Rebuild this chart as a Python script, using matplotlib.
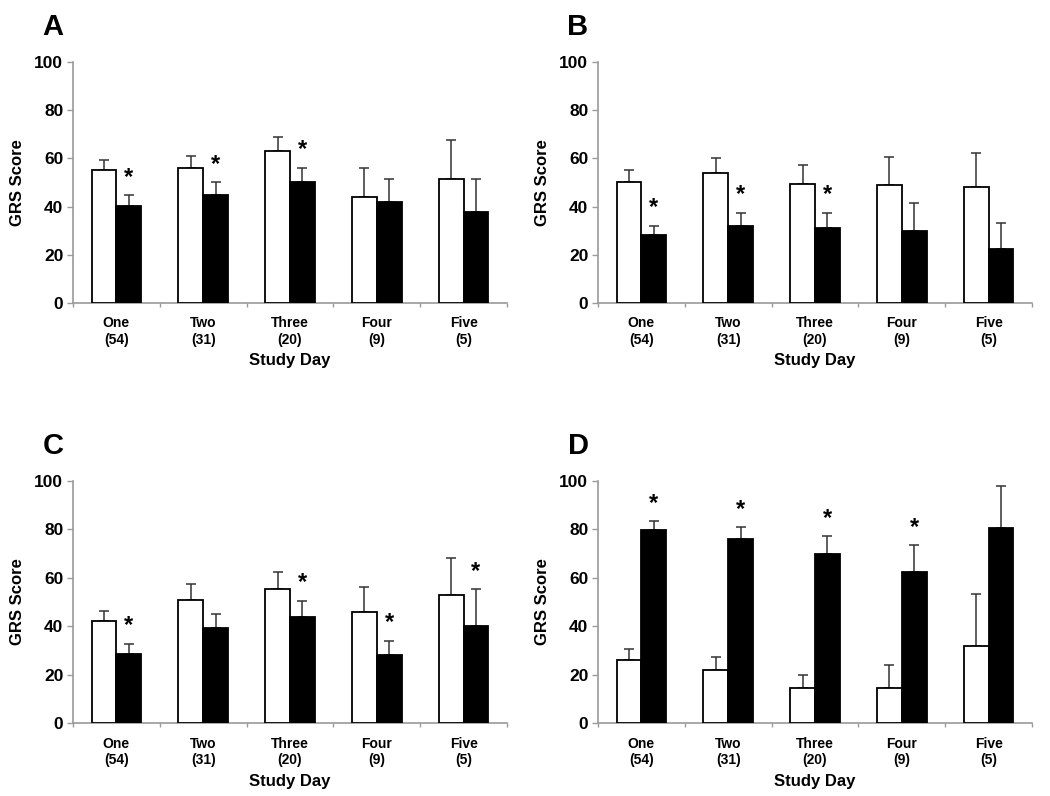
import matplotlib
matplotlib.use("Agg")
import matplotlib.pyplot as plt
import numpy as np

plt.rcParams['font.family'] = ['Liberation Sans', 'DejaVu Sans']
plt.rcParams['font.weight'] = 'bold'

days = ["One", "Two", "Three", "Four", "Five"]
ns = ["(54)", "(31)", "(20)", "(9)", "(5)"]
panels = ["A", "B", "C", "D"]

# white bars (group 1) means and upper error lengths
a_white = [55.2, 55.9, 63.0, 44.1, 51.3]
a_white_err = [4.0, 5.2, 5.8, 11.8, 16.3]
a_black = [40.3, 44.7, 50.2, 41.9, 37.9]
a_black_err = [4.4, 5.4, 5.9, 9.4, 13.4]
a_sig = [True, True, True, False, False]

b_white = [50.2, 54.1, 49.5, 49.1, 48.1]
b_white_err = [4.8, 5.9, 7.7, 11.6, 14.2]
b_black = [28.1, 32.0, 31.0, 29.9, 22.2]
b_black_err = [3.9, 5.5, 6.5, 11.5, 11.2]
b_sig = [True, True, True, False, False]

c_white = [42.1, 51.0, 55.3, 45.8, 52.7]
c_white_err = [4.2, 6.5, 7.2, 10.5, 15.6]
c_black = [28.6, 39.2, 44.0, 28.0, 40.1]
c_black_err = [4.0, 5.8, 6.6, 5.9, 15.2]
c_sig = [True, False, True, True, True]

d_white = [26.2, 21.8, 14.3, 14.6, 32.0]
d_white_err = [4.3, 5.5, 5.7, 9.5, 21.1]
d_black = [79.7, 75.9, 69.9, 62.2, 80.4]
d_black_err = [3.7, 4.9, 7.2, 11.2, 17.5]
d_sig = [True, True, True, True, False]

data = [
    (a_white, a_white_err, a_black, a_black_err, a_sig),
    (b_white, b_white_err, b_black, b_black_err, b_sig),
    (c_white, c_white_err, c_black, c_black_err, c_sig),
    (d_white, d_white_err, d_black, d_black_err, d_sig),
]

W, H = 1050, 796
fig = plt.figure(figsize=(W / 100, H / 100), dpi=100)

# axes boxes in pixels: left, top, right, bottom
boxes = [
    (73, 62, 507, 303),
    (598, 62, 1032, 303),
    (73, 481, 507, 723),
    (598, 481, 1032, 723),
]

spine_col = "#9a9a9a"
err_col = "#333333"
bw = 0.285

for (l, t, r, b), lab, (wv, we, bv, be, sig) in zip(boxes, panels, data):
    ax = fig.add_axes([l / W, 1 - b / H, (r - l) / W, (b - t) / H])
    x = np.arange(len(days))
    ax.bar(x - bw / 2, wv, bw, color="white", edgecolor="black", linewidth=1.3, zorder=3)
    ax.bar(x + bw / 2, bv, bw, color="black", edgecolor="black", linewidth=1.3, zorder=3)
    ax.errorbar(x - bw / 2, wv, yerr=[np.zeros(5), we], fmt="none", ecolor=err_col,
                elinewidth=1.1, capsize=3.5, capthick=1.1, zorder=2)
    ax.errorbar(x + bw / 2, bv, yerr=[np.zeros(5), be], fmt="none", ecolor=err_col,
                elinewidth=1.1, capsize=3.5, capthick=1.1, zorder=2)
    for i in range(5):
        if sig[i]:
            ax.text(x[i] + bw / 2, bv[i] + be[i] + 7.5, "*", ha="center", va="center",
                    fontsize=17, fontweight="bold")
    ax.set_xlim(-0.5, 4.5)
    ax.set_ylim(0, 100)
    ax.set_yticks([0, 20, 40, 60, 80, 100])
    ax.tick_params(axis="y", labelsize=12.5, length=4, width=1, color=spine_col, pad=3)
    ax.set_xticks(np.arange(-0.5, 4.6, 1.0))
    ax.set_xticklabels([])
    ax.tick_params(axis="x", length=3, width=1, color=spine_col)
    for s in ["top", "right"]:
        ax.spines[s].set_visible(False)
    for s in ["left", "bottom"]:
        ax.spines[s].set_color(spine_col)
        ax.spines[s].set_linewidth(1.2)
    for i in range(5):
        ax.text(x[i], -8.5, days[i], ha="center", va="center", fontsize=10, fontweight="bold")
        ax.text(x[i], -15.2, ns[i], ha="center", va="center", fontsize=10, fontweight="bold")
    ax.text(2.0, -24.0, "Study Day", ha="center", va="center", fontsize=12, fontweight="bold")
    ax.set_ylabel("GRS Score", fontsize=12, fontweight="bold", labelpad=7)
    fig.text((l - 20) / W, 1 - (t - 35) / H, lab, fontsize=21, fontweight="bold",
             ha="center", va="center")

fig.savefig("out.png", dpi=100)
